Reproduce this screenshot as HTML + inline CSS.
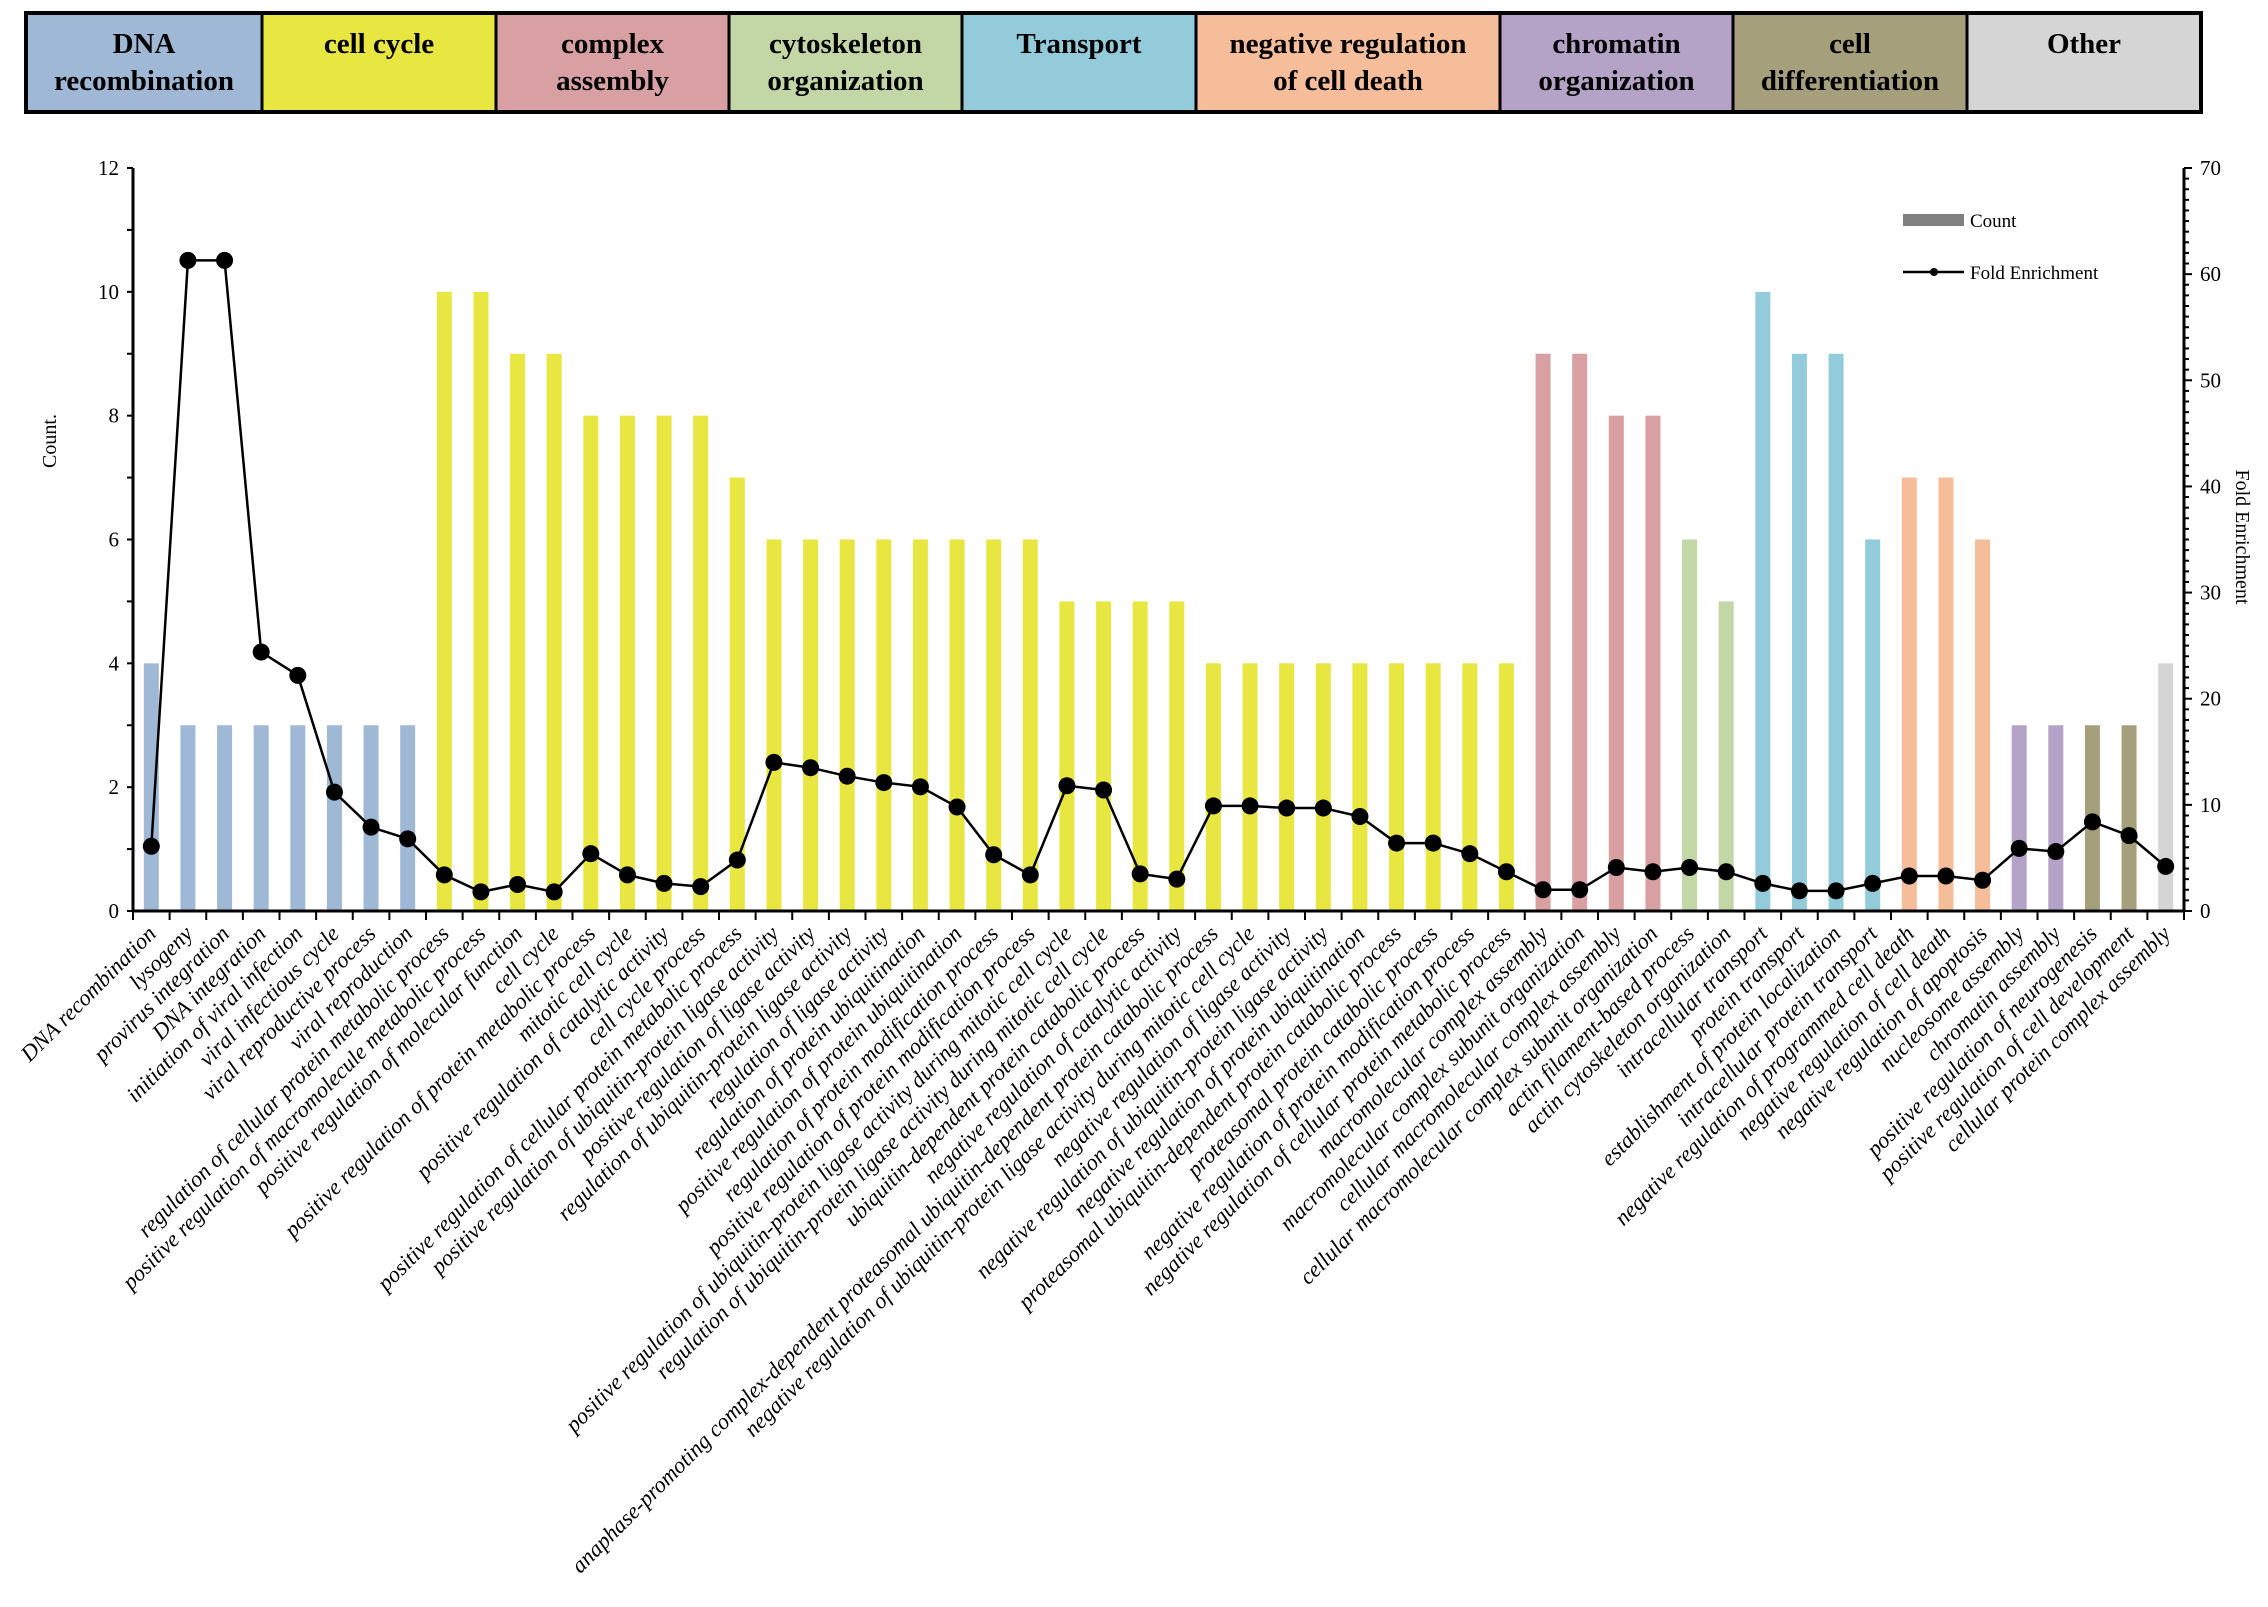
<!DOCTYPE html>
<html><head><meta charset="utf-8"><style>
html,body{margin:0;padding:0;background:#fff;}
svg{display:block;font-family:"Liberation Serif",serif;}
</style></head><body>
<svg id="chart" width="2268" height="1607" viewBox="0 0 2268 1607" xmlns="http://www.w3.org/2000/svg">
<g id="header"></g>
<g id="plot"></g>
</svg>
<script>
const groupNames = [["DNA","recombination"],["cell cycle"],["complex","assembly"],["cytoskeleton","organization"],["Transport"],["negative regulation","of cell  death"],["chromatin","organization"],["cell","differentiation"],["Other"]];
const groupColors = ["#9fb8d6","#e8e641","#d8a0a2","#c3d7a6","#94cbda","#f5bd99","#b4a3c7","#a69f7c","#d5d5d5"];
const groupSizes = [8,30,4,2,4,3,2,2,1];
const categories = ["DNA recombination","lysogeny","provirus integration","DNA integration","initiation of viral infection","viral infectious cycle","viral reproductive process","viral reproduction","regulation of cellular protein metabolic process","positive regulation of macromolecule metabolic process","positive regulation of molecular function","cell cycle","positive regulation of protein metabolic process","mitotic cell cycle","positive regulation of catalytic activity","cell cycle process","positive regulation of cellular protein metabolic process","positive regulation of ubiquitin-protein ligase activity","positive regulation of ligase activity","regulation of ubiquitin-protein ligase activity","regulation of ligase activity","regulation of protein ubiquitination","positive regulation of protein ubiquitination","regulation of protein modification process","positive regulation of protein modification process","positive regulation of ubiquitin-protein ligase activity during mitotic cell cycle","regulation of ubiquitin-protein ligase activity during mitotic cell cycle","ubiquitin-dependent protein catabolic process","negative regulation of catalytic activity","anaphase-promoting complex-dependent proteasomal ubiquitin-dependent protein catabolic process","negative regulation of ubiquitin-protein ligase activity during mitotic cell cycle","negative regulation of ligase activity","negative regulation of ubiquitin-protein ligase activity","negative regulation of protein ubiquitination","proteasomal ubiquitin-dependent protein catabolic process","proteasomal protein catabolic process","negative regulation of protein modification process","negative regulation of cellular protein metabolic process","macromolecular complex assembly","macromolecular complex subunit organization","cellular macromolecular complex assembly","cellular macromolecular complex subunit organization","actin filament-based process","actin cytoskeleton organization","intracellular transport","protein transport","establishment of protein localization","intracellular protein transport","negative regulation of programmed cell death","negative regulation of cell death","negative regulation of apoptosis","nucleosome assembly","chromatin assembly","positive regulation of neurogenesis","positive regulation of cell development","cellular protein complex assembly"];
const counts = [4,3,3,3,3,3,3,3,10,10,9,9,8,8,8,8,7,6,6,6,6,6,6,6,6,5,5,5,5,4,4,4,4,4,4,4,4,4,9,9,8,8,6,5,10,9,9,6,7,7,6,3,3,3,3,4];
const foldEnrichment = [6.1,61.3,61.3,24.4,22.2,11.2,7.9,6.8,3.4,1.8,2.5,1.8,5.4,3.4,2.6,2.3,4.8,14.0,13.5,12.7,12.1,11.7,9.8,5.3,3.4,11.8,11.4,3.5,3.0,9.9,9.9,9.7,9.7,8.9,6.4,6.4,5.4,3.7,2.0,2.0,4.1,3.7,4.1,3.7,2.6,1.9,1.9,2.6,3.3,3.3,2.9,5.9,5.6,8.4,7.1,4.2];
const leftTicks = [0,2,4,6,8,10,12];
const rightTicks = [0,10,20,30,40,50,60,70];

const NS="http://www.w3.org/2000/svg";
function mk(tag,attrs,parent,text){const e=document.createElementNS(NS,tag);for(const k in attrs)e.setAttribute(k,attrs[k]);if(text!==undefined)e.textContent=text;parent.appendChild(e);return e;}

const L=133,R=2184,T=168,B=911;
const n=categories.length, slot=(R-L)/n;
const xc=i=>L+slot*(i+0.5);
const yL=v=>B-(v/12)*(B-T);
const yR=v=>B-(v/70)*(B-T);

const hdr=document.getElementById('header');
const hx=[26,262,496,729,962,1196,1500,1733,1967,2201];
for(let g=0;g<groupNames.length;g++){
  const r=mk('rect',{x:hx[g],y:13,width:hx[g+1]-hx[g],height:99,fill:groupColors[g],stroke:'#000','stroke-width':3},hdr);
  
  
  const lines=groupNames[g];
  lines.forEach((s,k)=>{
    const t=mk('text',{x:(hx[g]+hx[g+1])/2,y:lines.length===1?53:(53+k*37),'text-anchor':'middle','font-size':29,'font-weight':'bold',fill:'#000'},hdr,s);
    
    
  });
}
mk('rect',{x:26,y:13,width:2175,height:99,fill:'none',stroke:'#000','stroke-width':4},hdr);

const p=document.getElementById('plot');
const barColors=[];groupSizes.forEach((s,g)=>{for(let k=0;k<s;k++)barColors.push(groupColors[g]);});
const bw=15;
counts.forEach((c,i)=>{
  const b=mk('rect',{x:xc(i)-bw/2,y:yL(c),width:bw,height:B-yL(c),fill:barColors[i]},p);
  
  
});
mk('line',{x1:L,y1:T,x2:L,y2:B+1,stroke:'#000','stroke-width':3},p);
mk('line',{x1:R,y1:T,x2:R,y2:B+1,stroke:'#000','stroke-width':3},p);
mk('line',{x1:L,y1:B,x2:R,y2:B,stroke:'#000','stroke-width':3},p);
for(let v=0;v<=12;v++){mk('line',{x1:L-6,y1:yL(v),x2:L,y2:yL(v),stroke:'#000','stroke-width':2},p);}
leftTicks.forEach(v=>{const t=mk('text',{x:L-14,y:yL(v)+7,'text-anchor':'end','font-size':21},p,v);});
for(let v=0;v<=70;v++){mk('line',{x1:R,y1:yR(v),x2:R+(v%10?5:8),y2:yR(v),stroke:'#000','stroke-width':2},p);}
rightTicks.forEach(v=>{const t=mk('text',{x:R+16,y:yR(v)+7,'text-anchor':'start','font-size':21},p,v);});
for(let i=0;i<=n;i++){mk('line',{x1:L+slot*i,y1:B,x2:L+slot*i,y2:B+9,stroke:'#000','stroke-width':2},p);}
categories.forEach((c,i)=>{
  const x=xc(i)+6,y=B+24;
  const t=mk('text',{x:x,y:y,'text-anchor':'end','font-size':22.5,'font-style':'italic',transform:`rotate(-45 ${x} ${y})`},p,c);
  
  
});
const pts=foldEnrichment.map((v,i)=>xc(i)+','+yR(v)).join(' ');
const pl=mk('polyline',{points:pts,fill:'none',stroke:'#000','stroke-width':2.5},p);


foldEnrichment.forEach((v,i)=>{
  const d=mk('circle',{cx:xc(i),cy:yR(v),r:8.5,fill:'#000'},p);
  
  
});
const yt=mk('text',{x:56,y:441,'text-anchor':'middle','font-size':20,transform:'rotate(-90 56 441)'},p,'Count.');

const yt2=mk('text',{x:2236,y:537,'text-anchor':'middle','font-size':20,transform:'rotate(90 2236 537)'},p,'Fold Enrichment');

const lg=mk('g',{},p);
const lr=mk('rect',{x:1903,y:214,width:61,height:12,fill:'#808080'},lg);
const lt1=mk('text',{x:1970,y:227,'font-size':19},lg,'Count');
mk('line',{x1:1903,y1:272,x2:1964,y2:272,stroke:'#000','stroke-width':2.5},lg);
mk('circle',{cx:1934,cy:272,r:4,fill:'#000'},lg);
const lt2=mk('text',{x:1970,y:279,'font-size':19},lg,'Fold Enrichment');
</script>
</body></html>
